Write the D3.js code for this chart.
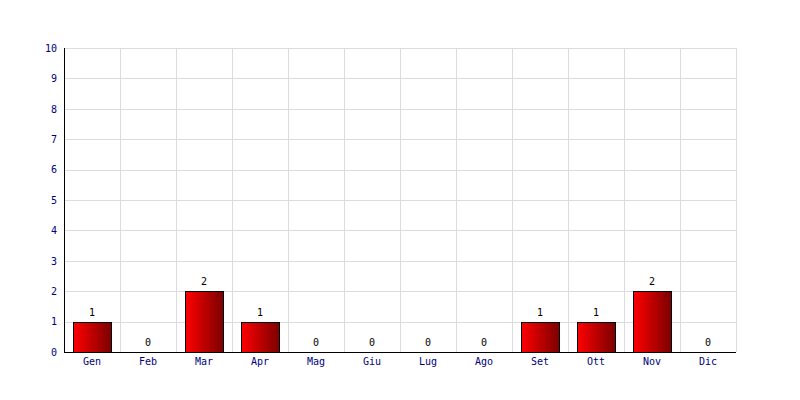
<!DOCTYPE html>
<html><head><meta charset="utf-8">
<script src="https://cdn.jsdelivr.net/npm/d3@7"></script>
<style>body{margin:0;background:#fff}svg{display:block}</style>
</head><body>
<script>
const categories = ["Gen","Feb","Mar","Apr","Mag","Giu","Lug","Ago","Set","Ott","Nov","Dic"];
const values = [1,0,2,1,0,0,0,0,1,1,2,0];
const yTicks = [0,1,2,3,4,5,6,7,8,9,10];

const W=800,H=400, m={l:64,r:64,t:48,b:48};
const FONT="DejaVu Sans Mono, monospace";
const svg=d3.select("body").append("svg").attr("width",W).attr("height",H);
const defs=svg.append("defs");
const g=defs.append("linearGradient").attr("id","grad").attr("x1","0").attr("x2","1").attr("y1","0").attr("y2","0");
g.append("stop").attr("offset","0").attr("stop-color","#ff0000");
g.append("stop").attr("offset","1").attr("stop-color","#7a0000");

const x=d3.scaleBand().domain(categories).range([m.l,W-m.r]).paddingInner(0.33).paddingOuter(0.165);
const xb=d3.scaleBand().domain(categories).range([m.l,W-m.r]);
const y=d3.scaleLinear().domain([0,10]).range([H-m.b,m.t]);

// grid
svg.append("g").selectAll("line").data(yTicks).join("line")
 .attr("x1",m.l).attr("x2",W-m.r).attr("y1",d=>Math.round(y(d))+0.5).attr("y2",d=>Math.round(y(d))+0.5)
 .attr("stroke","#dcdcdc");
svg.append("g").selectAll("line").data(categories).join("line")
 .attr("x1",d=>xb(d)+xb.bandwidth()+0.5).attr("x2",d=>xb(d)+xb.bandwidth()+0.5)
 .attr("y1",m.t).attr("y2",H-m.b).attr("stroke","#dcdcdc");

const data=values.map((v,i)=>({c:categories[i],v}));
// bars
svg.append("g").selectAll("rect").data(data.filter(d=>d.v>0)).join("rect")
 .attr("x",d=>Math.round(x(d.c))+0.5).attr("width",Math.round(x.bandwidth()))
 .attr("y",d=>Math.round(y(d.v))+0.5).attr("height",d=>Math.round(y(0))-Math.round(y(d.v)))
 .attr("fill","url(#grad)").attr("stroke","#000");

// value labels
svg.append("g").selectAll("text").data(data).join("text")
 .attr("x",d=>xb(d.c)+xb.bandwidth()/2).attr("y",d=>y(d.v)-6)
 .attr("text-anchor","middle").attr("font-family",FONT).attr("font-size","10px")
 .style("fill","#000").text(d=>d.v);

// axes
const yAxis=svg.append("g").attr("transform",`translate(${m.l},0)`)
 .call(d3.axisLeft(y).tickValues(yTicks).tickSize(0).tickPadding(7).tickFormat(d3.format("d")));
const xAxis=svg.append("g").attr("transform",`translate(0,${H-m.b})`)
 .call(d3.axisBottom(xb).tickSize(0).tickPadding(6));
[yAxis,xAxis].forEach(a=>{
 a.select(".domain").attr("stroke","#000");
 a.selectAll(".tick text").style("fill","#000080").attr("font-family",FONT).attr("font-size","10px");
});
yAxis.select(".domain").attr("d",`M0.5,${m.t}V${H-m.b+0.5}`);
xAxis.select(".domain").attr("d",`M${m.l},0.5H${W-m.r}`);
</script>
</body></html>
